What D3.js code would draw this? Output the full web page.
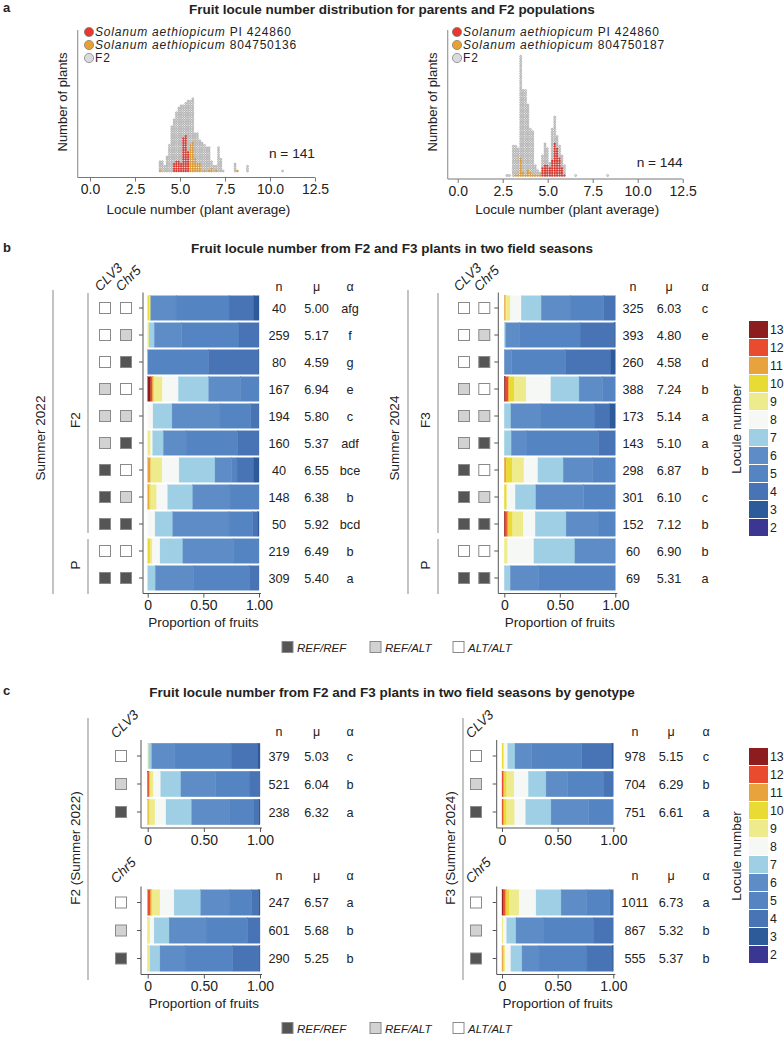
<!DOCTYPE html>
<html>
<head>
<meta charset="utf-8">
<script src="https://cdn.jsdelivr.net/npm/d3@7"></script>
<style>
body { margin: 0; background: #fff; }
svg { font-family: "Liberation Sans", Arial, sans-serif; }
</style>
</head>
<body>
<svg id="fig" width="784" height="1038"></svg>
<script>
// ---------- panel a: dot plots (column x, column height, red / orange dots at bottom)
const aTicks = [0, 2.5, 5, 7.5, 10, 12.5];

const aLeftX = [3.89, 4.02, 4.15, 4.28, 4.41, 4.54, 4.67, 4.80, 4.93, 5.06, 5.19, 5.32, 5.45, 5.58, 5.71, 5.84,
  5.97, 6.10, 6.23, 6.36, 6.49, 6.62, 6.75, 6.88, 7.01, 7.14, 7.27, 7.40, 8.06, 8.19, 8.75, 10.70];
const aLeftTotal = [5, 5, 3, 7, 12, 20, 23, 26, 28, 29, 29, 30, 31, 31, 32, 17, 17, 14, 13, 12, 11, 11, 5, 3, 3, 11, 6, 1, 4, 1, 3, 1];
const aLeftRed = [0, 0, 0, 0, 0, 0, 4, 5, 5, 4, 15, 16, 9, 0, 0, 0, 0, 0, 0, 0, 0, 0, 0, 0, 0, 0, 0, 0, 0, 0, 0, 0];
const aLeftOrange = [1, 0, 0, 0, 0, 0, 0, 0, 0, 0, 0, 0, 0, 12, 13, 6, 4, 4, 0, 1, 0, 1, 2, 0, 1, 0, 0, 0, 0, 1, 0, 0];

const aRightX = [2.74, 2.87, 3.09, 3.22, 3.36, 3.50, 3.63, 3.77, 3.90, 4.04, 4.17, 4.31, 4.44, 4.58, 4.71, 4.85,
  4.98, 5.12, 5.25, 5.39, 5.52, 5.66, 5.79, 5.93, 6.55, 8.33];
const aRightTotal = [1, 1, 13, 13, 12, 50, 36, 36, 30, 20, 19, 5, 3, 2, 9, 14, 12, 6, 20, 25, 17, 13, 9, 5, 1, 1];
const aRightRed = [0, 0, 0, 0, 0, 0, 0, 0, 0, 0, 0, 0, 0, 0, 4, 5, 5, 4, 7, 14, 12, 8, 4, 1, 0, 0];
const aRightOrange = [0, 0, 0, 1, 1, 8, 2, 1, 3, 2, 1, 1, 1, 1, 0, 0, 0, 0, 0, 0, 0, 0, 0, 0, 0, 0];

// ---------- locule classes
const locules = [13, 12, 11, 10, 9, 8, 7, 6, 5, 4, 3, 2];
const loculeColors = ['#8c1c1e', '#e84b2e', '#e8a33c', '#e8dc34', '#eeeb8c', '#f6f8f5',
  '#9fcfe5', '#5d8cc7', '#5484c1', '#4874b6', '#2d5a98', '#3a3692'];

// genotype: 0 = ALT/ALT, 1 = REF/ALT, 2 = REF/REF
const genoFill = ['#ffffff', '#d2d2d2', '#555555'];
const genoLabels = ['REF/REF', 'REF/ALT', 'ALT/ALT'];
const bGeno = [[0, 0], [0, 1], [0, 2], [1, 0], [1, 1], [1, 2], [2, 0], [2, 1], [2, 2], [0, 0], [2, 2]];

// ---------- panel b: proportions (%) for classes 13..2
const b2022Props = [
  [0, 0, 0, 1.5, 1.2, 0, 0, 22.8, 47.6, 22.4, 4.5, 0],
  [0, 0, 0, 0, 1.2, 0, 4.8, 24.5, 51.5, 18.0, 0, 0],
  [0, 0, 0, 0, 0, 0, 0, 0, 54.5, 45.0, 0.5, 0],
  [2.7, 1.5, 0.6, 1.2, 7.2, 14.4, 27.2, 28.4, 16.8, 0, 0, 0],
  [0, 0, 0, 0, 0, 4.8, 17.1, 43.1, 27.5, 7.5, 0, 0],
  [0, 0, 0, 0, 2.7, 1.8, 9.6, 20.4, 46.4, 19.1, 0, 0],
  [0, 0, 2.7, 0, 10.2, 15.3, 32.3, 15.0, 4.8, 15.2, 4.5, 0],
  [0, 0, 1.2, 1.5, 5.4, 9.9, 22.5, 33.5, 26.0, 0, 0, 0],
  [0, 0, 0, 0, 0, 6.6, 15.9, 50.6, 21.3, 4.5, 1.1, 0],
  [0, 0, 0, 2.1, 2.1, 6.9, 20.5, 45.8, 22.6, 0, 0, 0],
  [0, 0, 0, 0, 0, 0, 6.9, 34.6, 49.8, 8.7, 0, 0]
];
const b2022N = [40, 259, 80, 167, 194, 160, 40, 148, 50, 219, 309];
const b2022Mu = ['5.00', '5.17', '4.59', '6.94', '5.80', '5.37', '6.55', '6.38', '5.92', '6.49', '5.40'];
const b2022Alpha = ['afg', 'f', 'g', 'e', 'c', 'adf', 'bce', 'b', 'bcd', 'b', 'a'];

const b2024Props = [
  [0, 0, 0.9, 0.9, 3.6, 9.9, 18.0, 26.0, 30.0, 10.7, 0, 0],
  [0, 0, 0, 0, 0, 0, 1.2, 12.3, 54.8, 30.8, 0.9, 0],
  [0, 0, 0, 0, 0, 0, 0, 6.6, 48.8, 40.7, 3.9, 0],
  [1.2, 2.4, 0.6, 4.8, 10.8, 22.2, 25.4, 21.3, 11.3, 0, 0, 0],
  [0, 0, 0, 0, 0, 0, 6.0, 26.3, 49.4, 13.5, 4.8, 0],
  [0, 0, 0, 0, 0, 0, 6.3, 14.1, 64.4, 15.2, 0, 0],
  [0, 0, 1.8, 5.4, 10.5, 12.6, 22.8, 26.6, 20.3, 0, 0, 0],
  [0, 0, 0, 1.8, 0.9, 7.2, 18.6, 42.8, 28.7, 0, 0, 0],
  [0.6, 1.8, 1.5, 3.6, 9.6, 10.8, 27.8, 29.6, 14.7, 0, 0, 0],
  [0, 0, 0, 0, 3.0, 23.7, 36.9, 36.4, 0, 0, 0, 0],
  [0, 0, 0, 0, 0, 0, 5.4, 25.2, 69.4, 0, 0, 0]
];
const b2024N = [325, 393, 260, 388, 173, 143, 298, 301, 152, 60, 69];
const b2024Mu = ['6.03', '4.80', '4.58', '7.24', '5.14', '5.10', '6.87', '6.10', '7.12', '6.90', '5.31'];
const b2024Alpha = ['c', 'e', 'd', 'b', 'a', 'a', 'b', 'c', 'b', 'b', 'a'];

// ---------- panel c
const cF2Clv3Props = [
  [0, 0, 0, 0, 0.9, 0, 2.7, 20.0, 50.7, 23.7, 2.0, 0],
  [0.6, 0.6, 0.6, 0.9, 2.4, 6.5, 18.0, 31.0, 30.5, 8.9, 0, 0],
  [0, 0, 0.9, 0.9, 4.7, 9.8, 22.8, 34.1, 20.8, 4.8, 1.2, 0]
];
const cF2Chr5Props = [
  [0, 2.1, 1.2, 0.9, 6.8, 12.5, 23.7, 26.1, 19.3, 6.2, 1.2, 0],
  [0, 0, 0, 0.6, 1.5, 3.6, 13.4, 32.9, 37.1, 10.9, 0, 0],
  [0, 0, 0, 0.6, 1.5, 0, 8.9, 22.3, 42.1, 24.0, 0.6, 0]
];
const cF3Clv3Props = [
  [0, 0, 0, 1.2, 0.9, 3.0, 6.6, 15.0, 44.9, 27.2, 1.2, 0],
  [0, 1.2, 0.9, 2.1, 6.6, 12.9, 15.9, 19.2, 32.2, 9.0, 0, 0],
  [0, 0.9, 0.9, 2.4, 7.2, 9.9, 22.8, 33.5, 22.4, 0, 0, 0]
];
const cF3Chr5Props = [
  [0.9, 1.8, 1.5, 2.4, 8.7, 15.3, 22.5, 23.1, 20.3, 3.5, 0, 0],
  [0, 0, 0, 0, 1.2, 3.0, 8.4, 25.1, 44.9, 17.4, 0, 0],
  [0, 0.6, 0, 1.2, 1.2, 5.0, 10.0, 15.3, 43.1, 22.6, 1.0, 0]
];
const cF2Clv3N = [379, 521, 238], cF2Clv3Mu = ['5.03', '6.04', '6.32'], cF2Clv3Alpha = ['c', 'b', 'a'];
const cF2Chr5N = [247, 601, 290], cF2Chr5Mu = ['6.57', '5.68', '5.25'], cF2Chr5Alpha = ['a', 'b', 'b'];
const cF3Clv3N = [978, 704, 751], cF3Clv3Mu = ['5.15', '6.29', '6.61'], cF3Clv3Alpha = ['c', 'b', 'a'];
const cF3Chr5N = [1011, 867, 555], cF3Chr5Mu = ['6.73', '5.32', '5.37'], cF3Chr5Alpha = ['a', 'b', 'b'];
const cGeno = [0, 1, 2];

const svg = d3.select('#fig');
const TXT = '#222';

function text(x, y, str, size, opts = {}) {
  const t = svg.append('text').attr('x', x).attr('y', y)
    .attr('font-size', size).attr('fill', opts.fill || TXT)
    .attr('text-anchor', opts.anchor || 'start');
  if (opts.bold) t.attr('font-weight', 'bold');
  if (opts.italic) t.attr('font-style', 'italic');
  if (opts.rotate) t.attr('transform', `rotate(${opts.rotate},${x},${y})`);
  t.text(str);
  return t;
}

// ================= panel a =================
text(3, 12, 'a', 13, {bold: true});
text(392, 14, 'Fruit locule number distribution for parents and F2 populations', 13.5, {bold: true, anchor: 'middle'});

const dotFill = {p1: '#e5382f', p2: '#e9a031', f2: '#dadada'};
const dotStroke = {p1: '#b8302a', p2: '#b88028', f2: '#7c7c7c'};

function dotPlot(cfg) {
  const g = svg.append('g');
  const x = d3.scaleLinear().domain([0, 12.5]).range(cfg.xRange);
  const y = d3.scaleLinear().domain([0, 1]).range([cfg.base, cfg.base - cfg.step]);

  const dots = [];
  cfg.xs.forEach((v, i) => {
    const r = cfg.red[i], o = cfg.orange[i];
    for (let k = 0; k < cfg.total[i]; k++) {
      dots.push({v, k, grp: k < r ? 'p1' : (k < r + o ? 'p2' : 'f2')});
    }
  });
  g.selectAll('circle').data(dots).enter().append('circle')
    .attr('cx', d => x(d.v)).attr('cy', d => y(d.k))
    .attr('r', cfg.step / 2 - 0.15)
    .attr('fill', d => dotFill[d.grp])
    .attr('stroke', d => dotStroke[d.grp])
    .attr('stroke-width', 0.4);

  // axes
  const ax = g.append('g').attr('transform', `translate(0,${cfg.axisY})`)
    .call(d3.axisBottom(x).tickValues(aTicks).tickFormat(d3.format('.1f')).tickSize(4).tickSizeOuter(0));
  ax.select('.domain').remove();
  ax.selectAll('line').attr('stroke', '#777');
  ax.selectAll('text').attr('font-size', 14).attr('fill', TXT).attr('font-family', null);
  g.append('line').attr('x1', cfg.yAxisX).attr('x2', x(12.5))
    .attr('y1', cfg.axisY).attr('y2', cfg.axisY).attr('stroke', '#777');
  g.append('line').attr('x1', cfg.yAxisX).attr('x2', cfg.yAxisX)
    .attr('y1', 30).attr('y2', cfg.axisY).attr('stroke', '#999').attr('stroke-width', 1.2);

  text((cfg.yAxisX + x(12.5)) / 2 + 2, 214, 'Locule number (plant average)', 13.5, {anchor: 'middle'});
  text(cfg.yAxisX - 11, 102, 'Number of plants', 13, {anchor: 'middle', rotate: -90});
  text(x(12.5), cfg.nY, cfg.nLabel, 13.7, {anchor: 'end'});

  // legend
  const lg = [['p1', 'PI 424860'], ['p2', cfg.p2Label], ['f2', null]];
  lg.forEach((d, i) => {
    const cy = 32 + i * 13;
    g.append('circle').attr('cx', cfg.legX).attr('cy', cy).attr('r', 4.6)
      .attr('fill', dotFill[d[0]]).attr('stroke', '#777').attr('stroke-width', 0.7);
    const t = g.append('text').attr('x', cfg.legX + 6).attr('y', cy + 4.3)
      .attr('font-size', 12).attr('letter-spacing', 0.8).attr('fill', TXT);
    if (d[1]) {
      t.append('tspan').attr('font-style', 'italic').text('Solanum aethiopicum');
      t.append('tspan').text(' ' + d[1]);
    } else {
      t.text('F2');
    }
  });
}

dotPlot({xs: aLeftX, total: aLeftTotal, red: aLeftRed, orange: aLeftOrange,
  xRange: [90, 315], yAxisX: 77.7, axisY: 177.5, base: 171, step: 2.33,
  legX: 89, p2Label: '804750136', nLabel: 'n = 141', nY: 158});
dotPlot({xs: aRightX, total: aRightTotal, red: aRightRed, orange: aRightOrange,
  xRange: [457.7, 682.7], yAxisX: 447.7, axisY: 179, base: 175.5, step: 2.43,
  legX: 457, p2Label: '804750187', nLabel: 'n = 144', nY: 167});

// ================= stacked bars =================
function barBlock(cfg) {
  const g = svg.append('g');
  const n = cfg.props.length;
  const x = d3.scaleLinear().domain([0, 1]).range([cfg.x0, cfg.x0 + cfg.w]);
  const top = cfg.firstCenter - cfg.pitch / 2;
  const p = cfg.gap / cfg.pitch;
  const y = d3.scaleBand().domain(d3.range(n))
    .range([top, top + cfg.pitch * n]).paddingInner(p).paddingOuter(p / 2);

  const table = cfg.props.map(arr => {
    const o = {};
    locules.forEach((l, j) => { o[l] = arr[j]; });
    return o;
  });
  const series = d3.stack().keys(locules).offset(d3.stackOffsetExpand)(table);

  series.forEach((s, j) => {
    const segs = s.map((d, i) => ({lo: d[0], hi: d[1], i})).filter(d => d.hi - d.lo > 0);
    g.append('g').attr('fill', loculeColors[j]).attr('stroke', loculeColors[j]).attr('stroke-width', 0.3)
      .selectAll('rect').data(segs).enter().append('rect')
      .attr('x', d => x(d.lo)).attr('width', d => x(d.hi) - x(d.lo))
      .attr('y', d => y(d.i)).attr('height', y.bandwidth());
  });

  // left axis (ticks at bars) and bottom axis
  const axisY = top + cfg.pitch * n + 2;
  const la = g.append('g').attr('transform', `translate(${cfg.axisX},0)`)
    .call(d3.axisLeft(y).tickSize(4).tickFormat('').tickSizeOuter(0));
  la.select('.domain').remove();
  la.selectAll('line').attr('stroke', '#555');
  g.append('line').attr('x1', cfg.axisX).attr('x2', cfg.axisX)
    .attr('y1', top - 2).attr('y2', axisY).attr('stroke', '#555');
  const ba = g.append('g').attr('transform', `translate(0,${axisY})`)
    .call(d3.axisBottom(x).tickValues([0, 0.5, 1])
      .tickFormat(d => d === 0 ? '0' : d3.format('.2f')(d)).tickSize(4).tickSizeOuter(0));
  ba.select('.domain').remove();
  ba.selectAll('line').attr('stroke', '#555');
  ba.selectAll('text').attr('font-size', 14).attr('fill', TXT).attr('font-family', null);
  g.append('line').attr('x1', cfg.axisX).attr('x2', x(1) + 2)
    .attr('y1', axisY).attr('y2', axisY).attr('stroke', '#555');
  if (cfg.xTitle) text(x(0.5), axisY + 33, 'Proportion of fruits', 13.5, {anchor: 'middle'});

  // genotype squares
  cfg.geno.forEach((gs, i) => {
    gs.forEach((gv, k) => {
      g.append('rect').attr('x', cfg.sqX[k] - 5.5).attr('y', y(i) + y.bandwidth() / 2 - 5.5)
        .attr('width', 11).attr('height', 11)
        .attr('fill', genoFill[gv]).attr('stroke', '#8a8a8a').attr('stroke-width', 1);
    });
  });
  cfg.sqHeads.forEach((h, k) => {
    text(cfg.sqX[k] - 5, cfg.headY, h, 13.5, {italic: true, rotate: -45});
  });

  // table n / mu / alpha
  const cols = [cfg.nums, cfg.mu, cfg.alpha];
  ['n', 'μ', 'α'].forEach((h, k) => {
    text(cfg.tabX[k], cfg.tabHeadY, h, 12.5, {anchor: 'middle'});
    cols[k].forEach((v, i) => {
      text(cfg.tabX[k], y(i) + y.bandwidth() / 2 + 4.5, v, 12.7, {anchor: 'middle'});
    });
  });
}

function bracket(x, y1, y2, label, lx, ly) {
  svg.append('line').attr('x1', x).attr('x2', x).attr('y1', y1).attr('y2', y2)
    .attr('stroke', '#b5b5b5').attr('stroke-width', 1.6);
  text(lx, ly, label, 13.5, {anchor: 'middle', rotate: -90});
}

function colorLegend(top) {
  locules.forEach((l, j) => {
    svg.append('rect').attr('x', 749).attr('y', top + j * 18).attr('width', 19).attr('height', 17)
      .attr('fill', loculeColors[j]);
    text(770, top + j * 18 + 13, String(l), 12.3);
  });
  text(741, top + 108, 'Locule number', 13.5, {anchor: 'middle', rotate: -90});
}

function genoLegend(y) {
  const xs = [282, 370, 453];
  const fills = [genoFill[2], genoFill[1], genoFill[0]];
  xs.forEach((x0, i) => {
    svg.append('rect').attr('x', x0).attr('y', y - 5.5).attr('width', 11).attr('height', 11)
      .attr('fill', fills[i]).attr('stroke', '#8a8a8a');
    text(x0 + 15, y + 4.5, genoLabels[i], 11.5, {italic: true});
  });
}

// ================= panel b =================
text(3, 252, 'b', 13, {bold: true});
text(392, 253, 'Fruit locule number from F2 and F3 plants in two field seasons', 13.5, {bold: true, anchor: 'middle'});

barBlock({props: b2022Props, nums: b2022N, mu: b2022Mu, alpha: b2022Alpha, geno: bGeno,
  x0: 147.7, w: 111.3, axisX: 143, firstCenter: 308, pitch: 27, gap: 2.5,
  sqX: [105, 126], sqHeads: ['CLV3', 'Chr5'], headY: 292,
  tabX: [279, 316.5, 350], tabHeadY: 291, xTitle: true});
barBlock({props: b2024Props, nums: b2024N, mu: b2024Mu, alpha: b2024Alpha, geno: bGeno,
  x0: 504.3, w: 111, axisX: 498.3, firstCenter: 308, pitch: 27, gap: 2.5,
  sqX: [464, 484.3], sqHeads: ['CLV3', 'Chr5'], headY: 292,
  tabX: [633, 669, 705], tabHeadY: 291, xTitle: true});

bracket(53, 290, 594, 'Summer 2022', 45, 438);
bracket(88, 293, 533, 'F2', 80, 420);
bracket(88, 539, 594, 'P', 80, 565);
bracket(408, 290, 594, 'Summer 2024', 399, 438);
bracket(438, 293, 533, 'F3', 430, 420);
bracket(438, 539, 594, 'P', 430, 565);

colorLegend(321);
genoLegend(647);

// ================= panel c =================
text(3, 695, 'c', 13, {bold: true});
text(392, 697, 'Fruit locule number from F2 and F3 plants in two field seasons by genotype', 13.5, {bold: true, anchor: 'middle'});

const cLeft = {x0: 147.7, w: 112.3, axisX: 141, pitch: 28, gap: 2.5, sqX: [121], tabX: [279, 316.5, 350]};
const cRight = {x0: 502, w: 111.3, axisX: 496.7, pitch: 28, gap: 2.5, sqX: [476], tabX: [635, 671, 706]};

barBlock(Object.assign({}, cLeft, {props: cF2Clv3Props, nums: cF2Clv3N, mu: cF2Clv3Mu, alpha: cF2Clv3Alpha,
  geno: cGeno.map(v => [v]), firstCenter: 756, sqHeads: ['CLV3'], headY: 739, tabHeadY: 736, xTitle: false}));
barBlock(Object.assign({}, cLeft, {props: cF2Chr5Props, nums: cF2Chr5N, mu: cF2Chr5Mu, alpha: cF2Chr5Alpha,
  geno: cGeno.map(v => [v]), firstCenter: 902.5, sqHeads: ['Chr5'], headY: 884, tabHeadY: 880, xTitle: true}));
barBlock(Object.assign({}, cRight, {props: cF3Clv3Props, nums: cF3Clv3N, mu: cF3Clv3Mu, alpha: cF3Clv3Alpha,
  geno: cGeno.map(v => [v]), firstCenter: 756, sqHeads: ['CLV3'], headY: 739, tabHeadY: 736, xTitle: false}));
barBlock(Object.assign({}, cRight, {props: cF3Chr5Props, nums: cF3Chr5N, mu: cF3Chr5Mu, alpha: cF3Chr5Alpha,
  geno: cGeno.map(v => [v]), firstCenter: 902.5, sqHeads: ['Chr5'], headY: 884, tabHeadY: 880, xTitle: true}));

bracket(88, 718, 980, 'F2 (Summer 2022)', 80, 848);
bracket(463, 718, 980, 'F3 (Summer 2024)', 455, 848);

colorLegend(748);
genoLegend(1028);
</script>
</body>
</html>
